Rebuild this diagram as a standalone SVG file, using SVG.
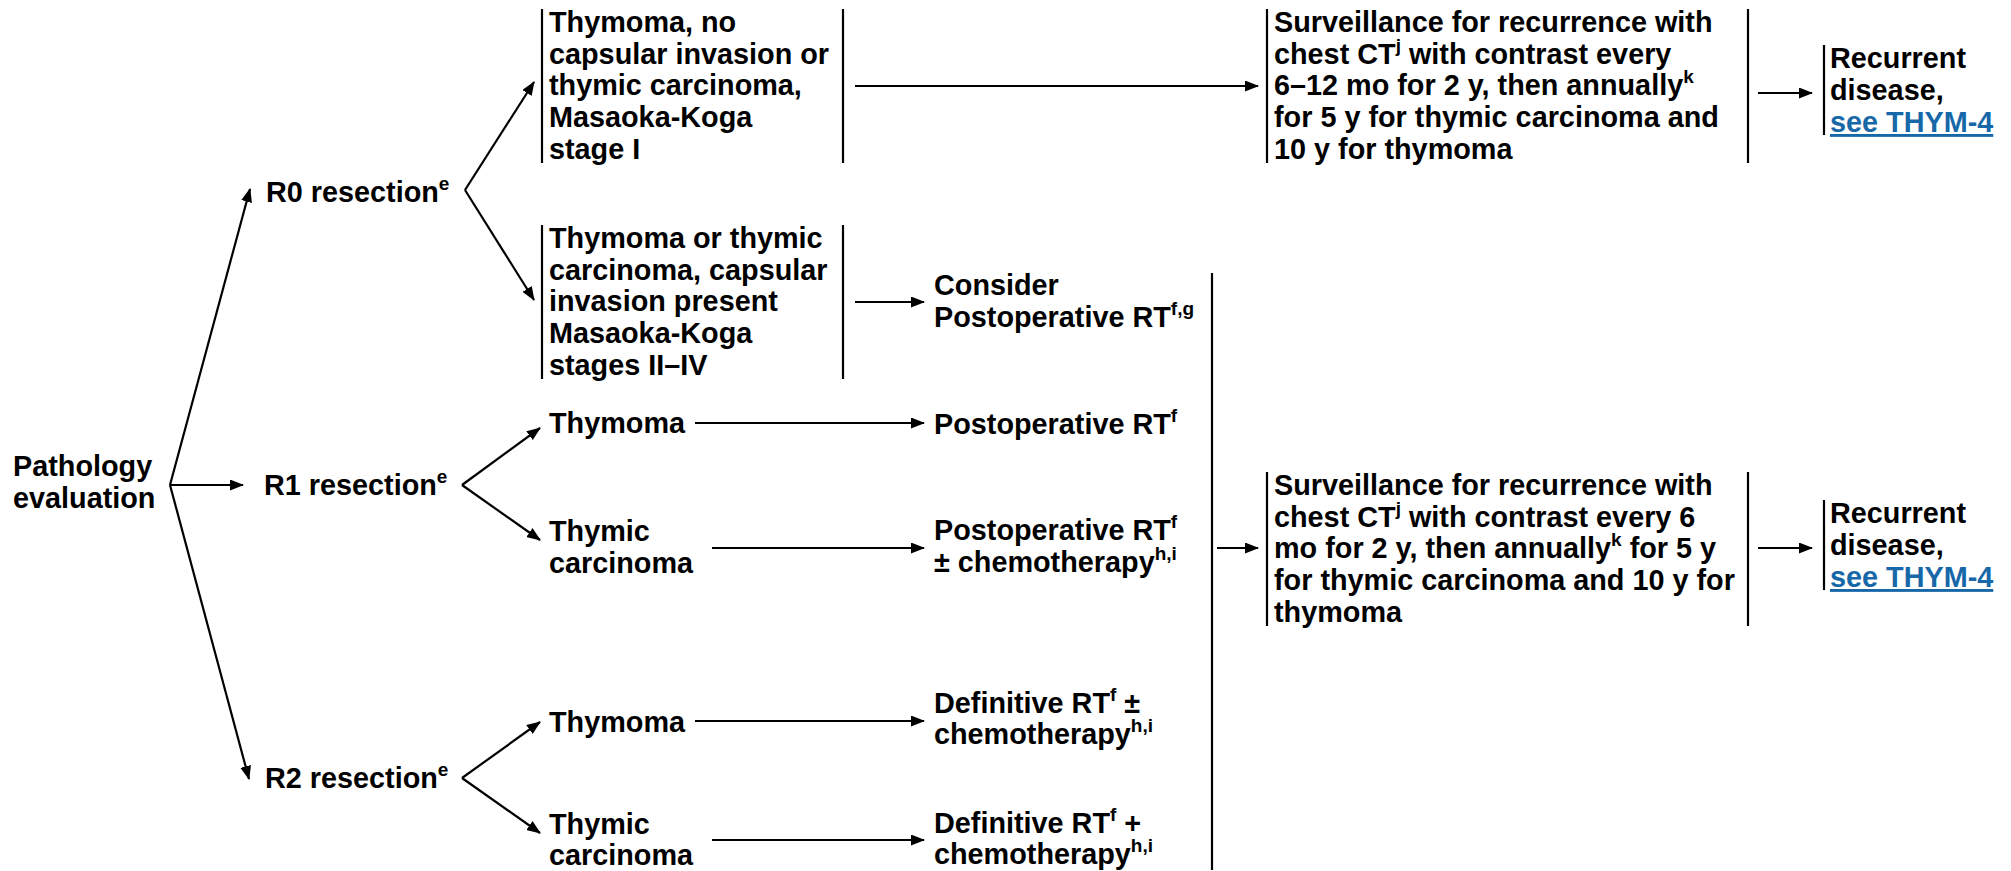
<svg xmlns="http://www.w3.org/2000/svg" width="2011" height="871" viewBox="0 0 2011 871">
<style>
text { font-family: "Liberation Sans", Arial, sans-serif; font-weight: bold; font-size: 28.8px; fill: #000; }
.sup { font-size: 19px; }
.link { fill: #1768a8; text-decoration: underline; }
.bar { stroke: #000; stroke-width: 2.2; fill: none; }
#connectors line { stroke: #000; stroke-width: 2.2; fill: none; }
.arr { marker-end: url(#ah); }
</style>
<defs>
<marker id="ah" markerUnits="userSpaceOnUse" markerWidth="14" markerHeight="11" viewBox="0 0 14 11" refX="13" refY="5.5" orient="auto">
<path d="M0,0 L14,5.5 L0,11 z" fill="#000"/>
</marker>
</defs>
<rect width="2011" height="871" fill="#fff"/>

<g id="connectors">
<line class="arr" x1="170" y1="485" x2="250" y2="189"/>
<line class="arr" x1="170" y1="485" x2="243" y2="485"/>
<line class="arr" x1="170" y1="485" x2="249" y2="779"/>
<line class="arr" x1="465" y1="190" x2="534" y2="82"/>
<line class="arr" x1="465" y1="190" x2="534" y2="300"/>
<line class="arr" x1="462" y1="485" x2="540" y2="428"/>
<line class="arr" x1="462" y1="485" x2="540" y2="540"/>
<line class="arr" x1="462" y1="778" x2="540" y2="722"/>
<line class="arr" x1="462" y1="778" x2="540" y2="833"/>
<line class="arr" x1="855" y1="86" x2="1258" y2="86"/>
<line class="arr" x1="855" y1="302" x2="924" y2="302"/>
<line class="arr" x1="695" y1="423" x2="924" y2="423"/>
<line class="arr" x1="712" y1="548" x2="924" y2="548"/>
<line class="arr" x1="695" y1="721" x2="924" y2="721"/>
<line class="arr" x1="712" y1="840" x2="924" y2="840"/>
<line x1="1212" y1="273" x2="1212" y2="870"/>
<line class="arr" x1="1217" y1="548" x2="1258" y2="548"/>
<line class="arr" x1="1758" y1="93" x2="1812" y2="93"/>
<line class="arr" x1="1758" y1="548" x2="1812" y2="548"/>
</g>

<g id="pathology">
<text x="13" y="476">Pathology</text>
<text x="13" y="508">evaluation</text>
</g>

<g id="r0">
<text x="266" y="202">R0 resection<tspan class="sup" dy="-12">e</tspan></text>
</g>
<g id="r1">
<text x="264" y="495">R1 resection<tspan class="sup" dy="-12">e</tspan></text>
</g>
<g id="r2">
<text x="265" y="788">R2 resection<tspan class="sup" dy="-12">e</tspan></text>
</g>

<g id="r0-stage1">
<line class="bar" x1="542" y1="9" x2="542" y2="163"/>
<line class="bar" x1="843" y1="9" x2="843" y2="163"/>
<text x="549" y="32">Thymoma, no</text>
<text x="549" y="63.7">capsular invasion or</text>
<text x="549" y="95.4">thymic carcinoma,</text>
<text x="549" y="127.1">Masaoka-Koga</text>
<text x="549" y="158.8">stage I</text>
</g>

<g id="r0-stage2-4">
<line class="bar" x1="542" y1="225" x2="542" y2="379"/>
<line class="bar" x1="843" y1="225" x2="843" y2="379"/>
<text x="549" y="248">Thymoma or thymic</text>
<text x="549" y="279.7">carcinoma, capsular</text>
<text x="549" y="311.4">invasion present</text>
<text x="549" y="343.1">Masaoka-Koga</text>
<text x="549" y="374.8">stages II–IV</text>
</g>

<g id="consider-rt">
<text x="934" y="295">Consider</text>
<text x="934" y="327">Postoperative RT<tspan class="sup" dy="-12">f,g</tspan></text>
</g>

<g id="r1-thymoma">
<text x="549" y="433">Thymoma</text>
</g>
<g id="r1-postop-rt">
<text x="934" y="434">Postoperative RT<tspan class="sup" dy="-12">f</tspan></text>
</g>

<g id="r1-thymic">
<text x="549" y="541">Thymic</text>
<text x="549" y="573">carcinoma</text>
</g>
<g id="r1-postop-rt-chemo">
<text x="934" y="540">Postoperative RT<tspan class="sup" dy="-12">f</tspan></text>
<text x="934" y="572">± chemotherapy<tspan class="sup" dy="-12">h,i</tspan></text>
</g>

<g id="r2-thymoma">
<text x="549" y="732">Thymoma</text>
</g>
<g id="r2-def-rt-pm">
<text x="934" y="713">Definitive RT<tspan class="sup" dy="-12">f</tspan><tspan dy="12"> ±</tspan></text>
<text x="934" y="744">chemotherapy<tspan class="sup" dy="-12">h,i</tspan></text>
</g>

<g id="r2-thymic">
<text x="549" y="834">Thymic</text>
<text x="549" y="865">carcinoma</text>
</g>
<g id="r2-def-rt-plus">
<text x="934" y="833">Definitive RT<tspan class="sup" dy="-12">f</tspan><tspan dy="12"> +</tspan></text>
<text x="934" y="864">chemotherapy<tspan class="sup" dy="-12">h,i</tspan></text>
</g>

<g id="surveillance-1">
<line class="bar" x1="1267" y1="9" x2="1267" y2="163"/>
<line class="bar" x1="1748" y1="9" x2="1748" y2="163"/>
<text x="1274" y="32">Surveillance for recurrence with</text>
<text x="1274" y="63.7">chest CT<tspan class="sup" dy="-12">j</tspan><tspan dy="12"> with contrast every</tspan></text>
<text x="1274" y="95.4">6–12 mo for 2 y, then annually<tspan class="sup" dy="-12">k</tspan></text>
<text x="1274" y="127.1">for 5 y for thymic carcinoma and</text>
<text x="1274" y="158.8">10 y for thymoma</text>
</g>

<g id="surveillance-2">
<line class="bar" x1="1267" y1="472" x2="1267" y2="626"/>
<line class="bar" x1="1748" y1="472" x2="1748" y2="626"/>
<text x="1274" y="495">Surveillance for recurrence with</text>
<text x="1274" y="526.7">chest CT<tspan class="sup" dy="-12">j</tspan><tspan dy="12"> with contrast every 6</tspan></text>
<text x="1274" y="558.4">mo for 2 y, then annually<tspan class="sup" dy="-12">k</tspan><tspan dy="12"> for 5 y</tspan></text>
<text x="1274" y="590.1">for thymic carcinoma and 10 y for</text>
<text x="1274" y="621.8">thymoma</text>
</g>

<g id="recurrent-1">
<line class="bar" x1="1824" y1="45" x2="1824" y2="135"/>
<text x="1830" y="68">Recurrent</text>
<text x="1830" y="100">disease,</text>
<text class="link" x="1830" y="132">see THYM-4</text>
</g>

<g id="recurrent-2">
<line class="bar" x1="1824" y1="500" x2="1824" y2="590"/>
<text x="1830" y="523">Recurrent</text>
<text x="1830" y="555">disease,</text>
<text class="link" x="1830" y="587">see THYM-4</text>
</g>
</svg>
